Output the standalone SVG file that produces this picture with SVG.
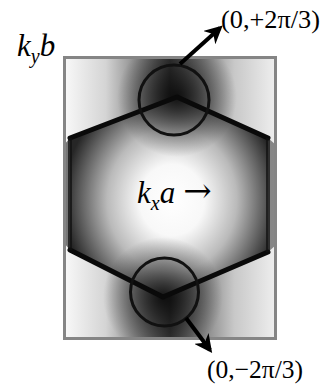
<svg xmlns="http://www.w3.org/2000/svg" width="322" height="387" viewBox="0 0 322 387">
  <defs>
    <style>
      .lbl { font-family: "Liberation Serif", "Times New Roman", serif; fill: #000; }
      .it { font-style: italic; }
      .edge { fill: none; stroke: #0a0a0a; stroke-width: 5; stroke-linecap: round; stroke-linejoin: round; }
      .ring { fill: none; stroke: #111; stroke-width: 3; }
      .conn { fill: none; stroke: #000; stroke-width: 4; marker-end: url(#head); }
    </style>
    <marker id="head" viewBox="0 0 10 10" refX="8" refY="5" markerWidth="4.5" markerHeight="4.5" orient="auto" markerUnits="strokeWidth">
      <path d="M0,0 L10,5 L0,10 L3,5 Z" fill="#000"/>
    </marker>
    <linearGradient id="bgH" gradientUnits="userSpaceOnUse" x1="63" y1="0" x2="277" y2="0">
      <stop offset="0" stop-color="#fafafa"/>
      <stop offset="0.2" stop-color="#d4d4d4"/>
      <stop offset="0.5" stop-color="#3a3a3a"/>
      <stop offset="0.8" stop-color="#c8c8c8"/>
      <stop offset="1" stop-color="#f0f0f0"/>
    </linearGradient>
    <radialGradient id="hexG" gradientUnits="userSpaceOnUse" cx="172" cy="200" r="108" gradientTransform="translate(172 200) scale(1 1.1) translate(-172 -200)">
      <stop offset="0" stop-color="#ffffff"/>
      <stop offset="0.3" stop-color="#f8f8f8"/>
      <stop offset="0.6" stop-color="#bababa"/>
      <stop offset="0.85" stop-color="#5e5e5e"/>
      <stop offset="1" stop-color="#262626"/>
    </radialGradient>
    <radialGradient id="spot">
      <stop offset="0" stop-color="#000" stop-opacity="0.8"/>
      <stop offset="0.5" stop-color="#000" stop-opacity="0.4"/>
      <stop offset="1" stop-color="#000" stop-opacity="0"/>
    </radialGradient>
    <clipPath id="box"><rect x="64" y="57" width="212" height="282"/></clipPath>
  </defs>

  <g id="zone">
    <rect x="64" y="57" width="212" height="282" fill="url(#bgH)"/>
    <g clip-path="url(#box)">
      <polygon points="177,97 268,138 268,252 163,297 70,250 70,138" fill="url(#hexG)"/>
      <polygon points="64,145 70,138 70,250 64,243" fill="#222" opacity="0.6"/>
      <polygon points="276,145 268,138 268,252 276,245" fill="#222" opacity="0.5"/>
      <circle cx="177" cy="97" r="60" fill="url(#spot)"/>
      <circle cx="163" cy="297" r="60" fill="url(#spot)"/>
    </g>
    <rect x="64.5" y="57.5" width="211" height="281" fill="none" stroke="#858585" stroke-width="3"/>
  </g>

  <g id="hexagon">
    <polyline class="edge" points="70,138 177,97 268,138"/>
    <polyline class="edge" points="70,250 163,297 268,252"/>
    <line x1="70" y1="138" x2="70" y2="250" stroke="#111" stroke-width="4" opacity="0.75"/>
    <line x1="268" y1="138" x2="268" y2="252" stroke="#111" stroke-width="4" opacity="0.75"/>
  </g>

  <g id="valley-top">
    <circle class="ring" cx="174" cy="100" r="35"/>
  </g>
  <g id="valley-bottom">
    <circle class="ring" cx="164.5" cy="292" r="34"/>
  </g>

  <g id="connectors">
    <line class="conn" x1="180" y1="64" x2="220" y2="28"/>
    <line class="conn" x1="186" y1="318" x2="210" y2="350"/>
  </g>

  <g id="labels">
    <text class="lbl" x="221" y="28" font-size="26" textLength="99" lengthAdjust="spacingAndGlyphs">(0,+2π/3)</text>
    <text class="lbl" x="207" y="378" font-size="26" textLength="96" lengthAdjust="spacingAndGlyphs">(0,−2π/3)</text>
    <text class="lbl it" x="17" y="56" font-size="31">k<tspan font-size="20" dy="7">y</tspan><tspan dy="-7">b</tspan></text>
    <text class="lbl" x="137" y="203" font-size="31"><tspan class="it">k</tspan><tspan class="it" font-size="20" dy="7">x</tspan><tspan class="it" dy="-7">a</tspan><tspan dx="8" dy="-1" font-family="DejaVu Serif, serif" font-size="34">→</tspan></text>
  </g>
</svg>
